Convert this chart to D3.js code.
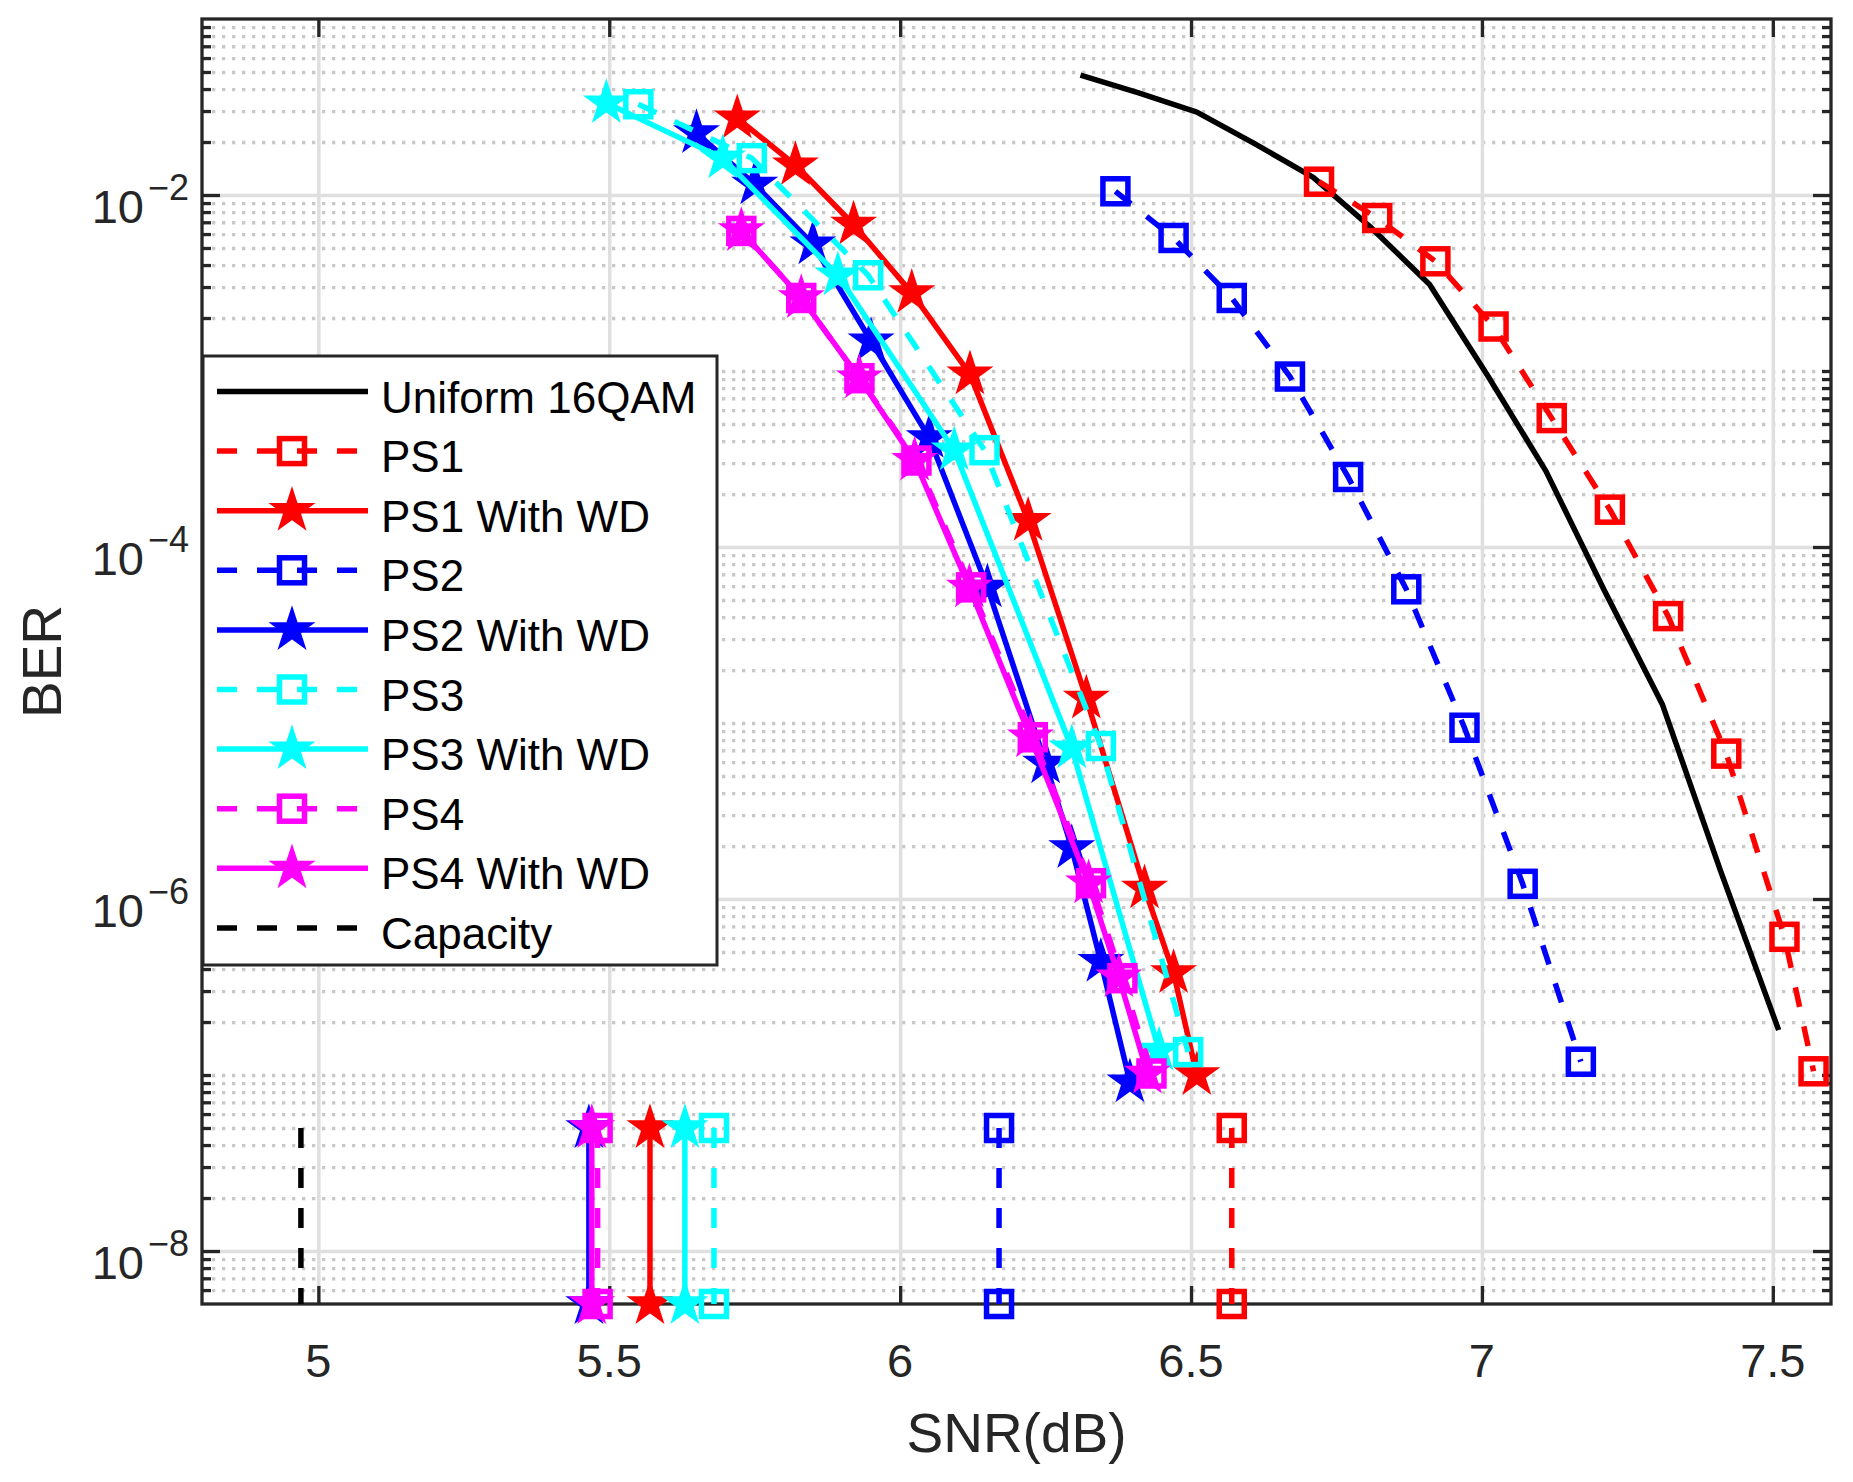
<!DOCTYPE html>
<html>
<head>
<meta charset="utf-8">
<script src="https://cdn.jsdelivr.net/npm/d3@7"></script>
<style>
  body { margin: 0; background: #fff; }
  text { font-family: 'Liberation Sans', Arial, Helvetica, sans-serif; }
</style>
</head>
<body>
<svg width="1853" height="1482"></svg>
<script>
// values (SNR in dB, BER)
var snrUniform = [6.31, 6.41, 6.51, 6.61, 6.71, 6.81, 6.91, 7.01, 7.11, 7.21, 7.31, 7.41, 7.51];
var berUniform = [4.8e-2, 3.8e-2, 2.96e-2, 1.95e-2, 1.26e-2, 6.5e-3, 3.1e-3, 9.4e-4, 2.7e-4, 5.7e-5, 1.28e-5, 1.45e-6, 1.8e-7];

var snrPS1 = [6.72, 6.82, 6.92, 7.02, 7.12, 7.22, 7.32, 7.42, 7.52, 7.57];
var berPS1 = [1.19e-2, 7.4e-3, 4.2e-3, 1.79e-3, 5.4e-4, 1.63e-4, 4.05e-5, 6.7e-6, 6.1e-7, 1.05e-7];

var snrPS1WD = [5.72, 5.82, 5.92, 6.02, 6.12, 6.22, 6.32, 6.42, 6.47, 6.51];
var berPS1WD = [2.73e-2, 1.48e-2, 6.8e-3, 2.78e-3, 9.6e-4, 1.41e-4, 1.38e-5, 1.15e-6, 3.8e-7, 1.0e-7];

var snrPS2 = [6.37, 6.47, 6.57, 6.67, 6.77, 6.87, 6.97, 7.07, 7.17];
var berPS2 = [1.05e-2, 5.7e-3, 2.6e-3, 9.3e-4, 2.5e-4, 5.75e-5, 9.4e-6, 1.22e-6, 1.19e-7];

var snrPS2WD = [5.65, 5.75, 5.85, 5.95, 6.05, 6.15, 6.25, 6.295, 6.345, 6.395];
var berPS2WD = [2.25e-2, 1.15e-2, 5.25e-3, 1.48e-3, 4.17e-4, 5.9e-5, 5.9e-6, 1.95e-6, 4.4e-7, 9.1e-8];

var snrPS3 = [5.55, 5.745, 5.945, 6.145, 6.345, 6.495];
var berPS3 = [3.28e-2, 1.62e-2, 3.5e-3, 3.55e-4, 7.4e-6, 1.35e-7];

var snrPS3WD = [5.495, 5.695, 5.893, 6.093, 6.295, 6.445];
var berPS3WD = [3.33e-2, 1.62e-2, 3.5e-3, 3.55e-4, 7.2e-6, 1.38e-7];

var snrPS4 = [5.727, 5.83, 5.93, 6.028, 6.122, 6.228, 6.328, 6.382, 6.432];
var berPS4 = [6.25e-3, 2.6e-3, 9.1e-4, 3.1e-4, 5.9e-5, 8.3e-6, 1.23e-6, 3.55e-7, 1.02e-7];

var snrPS4WD = [5.727, 5.83, 5.93, 6.025, 6.119, 6.224, 6.324, 6.376, 6.425];
var berPS4WD = [6.25e-3, 2.6e-3, 9.1e-4, 3.1e-4, 5.9e-5, 8.3e-6, 1.23e-6, 3.6e-7, 1.02e-7];

// short vertical markers near the bottom, one per series (legend order, Uniform has none)
var thresholdSnr = [6.57, 5.57, 6.17, 5.465, 5.68, 5.63, 5.48, 5.47, 4.97];
var thresholdBer = [5e-8, 5e-9];

var xTicks = [5, 5.5, 6, 6.5, 7, 7.5];
var yTicks = [1e-8, 1e-6, 1e-4, 1e-2];
var yTickExp = ['\u22128', '\u22126', '\u22124', '\u22122'];

var svg = d3.select('svg'),
    plotLeft = 202, plotRight = 1831, plotTop = 19, plotBottom = 1304;

var x = d3.scaleLinear().domain([4.8, 7.6]).range([plotLeft, plotRight]);
var y = d3.scaleLog().domain([5e-9, 1e-1]).range([plotBottom, plotTop]);

svg.append('rect').attr('width', 1853).attr('height', 1482).attr('fill', '#fff');

svg.append('clipPath').attr('id', 'plot')
  .append('rect')
    .attr('x', plotLeft).attr('y', plotTop)
    .attr('width', plotRight - plotLeft).attr('height', plotBottom - plotTop);

// minor decades for the log grid
var yMinor = [];
for (var n = -9; n <= -2; n++) {
  for (var k = 1; k <= 9; k++) {
    var v = k * Math.pow(10, n);
    var isMajor = yTicks.some(function(t) { return Math.abs(t - v) / t < 1e-6; });
    if (v > 5e-9 * 1.0001 && v < 0.1 * 0.9999 && !isMajor) yMinor.push(v);
  }
}

// grid
svg.append('g')
    .attr('transform', 'translate(' + plotLeft + ',0)')
    .call(d3.axisLeft(y).tickValues(yMinor).tickSize(-(plotRight - plotLeft)).tickFormat(''))
    .call(function(g) { g.select('.domain').remove(); })
  .selectAll('line')
    .attr('stroke', '#c8c8c8')
    .attr('stroke-width', 3.3)
    .attr('stroke-dasharray', '3.3,6.7');

svg.append('g')
    .attr('transform', 'translate(' + plotLeft + ',0)')
    .call(d3.axisLeft(y).tickValues(yTicks).tickSize(-(plotRight - plotLeft)).tickFormat(''))
    .call(function(g) { g.select('.domain').remove(); })
  .selectAll('line')
    .attr('stroke', '#dfdfdf')
    .attr('stroke-width', 3.5);

svg.append('g')
    .attr('transform', 'translate(0,' + plotBottom + ')')
    .call(d3.axisBottom(x).tickValues(xTicks).tickSize(-(plotBottom - plotTop)).tickFormat(''))
    .call(function(g) { g.select('.domain').remove(); })
  .selectAll('line')
    .attr('stroke', '#dfdfdf')
    .attr('stroke-width', 3.5);

// inward ticks on all four sides
function ticks(axis, tx, ty) {
  svg.append('g')
      .attr('transform', 'translate(' + tx + ',' + ty + ')')
      .call(axis.tickFormat(''))
      .call(function(g) { g.select('.domain').remove(); })
    .selectAll('line')
      .attr('stroke', '#262626')
      .attr('stroke-width', 3.3);
}
ticks(d3.axisBottom(x).tickValues(xTicks).tickSize(-18), 0, plotBottom);
ticks(d3.axisTop(x).tickValues(xTicks).tickSize(-18), 0, plotTop);
ticks(d3.axisLeft(y).tickValues(yTicks).tickSize(-18), plotLeft, 0);
ticks(d3.axisRight(y).tickValues(yTicks).tickSize(-18), plotRight, 0);
ticks(d3.axisLeft(y).tickValues(yMinor).tickSize(-9), plotLeft, 0);
ticks(d3.axisRight(y).tickValues(yMinor).tickSize(-9), plotRight, 0);

svg.append('rect')
    .attr('x', plotLeft).attr('y', plotTop)
    .attr('width', plotRight - plotLeft).attr('height', plotBottom - plotTop)
    .attr('fill', 'none')
    .attr('stroke', '#262626')
    .attr('stroke-width', 3.3);

// tick labels
svg.append('g').selectAll('text')
  .data(xTicks)
  .enter().append('text')
    .attr('x', function(d) { return x(d); })
    .attr('y', 1377)
    .attr('text-anchor', 'middle')
    .attr('font-size', 47)
    .attr('fill', '#262626')
    .text(function(d) { return d; });

var yLab = svg.append('g').selectAll('text')
  .data(yTicks)
  .enter().append('text')
    .attr('x', 189)
    .attr('y', function(d) { return y(d) + 28; })
    .attr('text-anchor', 'end')
    .attr('font-size', 47)
    .attr('fill', '#262626');
yLab.append('tspan').text('10');
yLab.append('tspan')
    .attr('dx', 4)
    .attr('dy', -23)
    .attr('font-size', 36)
    .text(function(d, i) { return yTickExp[i]; });

svg.append('text')
    .attr('x', (plotLeft + plotRight) / 2)
    .attr('y', 1452)
    .attr('text-anchor', 'middle')
    .attr('font-size', 55)
    .attr('fill', '#262626')
    .text('SNR(dB)');

svg.append('text')
    .attr('transform', 'translate(61,' + (plotTop + plotBottom) / 2 + ') rotate(-90)')
    .attr('text-anchor', 'middle')
    .attr('font-size', 55)
    .attr('fill', '#262626')
    .text('BER');

// series styles
var series = [
  { name: 'Uniform 16QAM', snr: snrUniform, ber: berUniform, color: '#000000', dash: null, marker: null },
  { name: 'PS1', snr: snrPS1, ber: berPS1, color: '#ff0000', dash: '20,20', marker: 'square' },
  { name: 'PS1 With WD', snr: snrPS1WD, ber: berPS1WD, color: '#ff0000', dash: null, marker: 'star' },
  { name: 'PS2', snr: snrPS2, ber: berPS2, color: '#0000ff', dash: '20,20', marker: 'square' },
  { name: 'PS2 With WD', snr: snrPS2WD, ber: berPS2WD, color: '#0000ff', dash: null, marker: 'star' },
  { name: 'PS3', snr: snrPS3, ber: berPS3, color: '#00ffff', dash: '20,20', marker: 'square' },
  { name: 'PS3 With WD', snr: snrPS3WD, ber: berPS3WD, color: '#00ffff', dash: null, marker: 'star' },
  { name: 'PS4', snr: snrPS4, ber: berPS4, color: '#ff00ff', dash: '20,20', marker: 'square' },
  { name: 'PS4 With WD', snr: snrPS4WD, ber: berPS4WD, color: '#ff00ff', dash: null, marker: 'star' },
  { name: 'Capacity', snr: null, ber: null, color: '#000000', dash: '20,20', marker: null }
];
// thresholds belong to every series but the first
series.forEach(function(s, i) { s.thr = i > 0 ? thresholdSnr[i - 1] : null; });

function starPath(r) {
  var pts = [];
  for (var i = 0; i < 10; i++) {
    var a = -Math.PI / 2 + i * Math.PI / 5,
        rr = i % 2 ? r * 0.382 : r;
    pts.push([rr * Math.cos(a), rr * Math.sin(a)]);
  }
  return 'M' + pts.join('L') + 'Z';
}

function drawMarkers(g, s, pts) {
  if (s.marker === 'square') {
    g.selectAll(null)
      .data(pts)
      .enter().append('rect')
        .attr('x', function(d) { return d[0] - 12.5; })
        .attr('y', function(d) { return d[1] - 12.5; })
        .attr('width', 25).attr('height', 25)
        .attr('fill', 'none')
        .attr('stroke', s.color)
        .attr('stroke-width', 5.5);
  } else if (s.marker === 'star') {
    g.selectAll(null)
      .data(pts)
      .enter().append('path')
        .attr('d', starPath(21.5))
        .attr('transform', function(d) { return 'translate(' + d[0] + ',' + d[1] + ')'; })
        .attr('fill', s.color)
        .attr('stroke', s.color)
        .attr('stroke-width', 2)
        .attr('stroke-linejoin', 'miter');
  }
}

var line = d3.line();

function drawCurve(s, pts) {
  var g = svg.append('g');
  g.append('path')
      .attr('d', line(pts))
      .attr('clip-path', 'url(#plot)')
      .attr('fill', 'none')
      .attr('stroke', s.color)
      .attr('stroke-width', 5.5)
      .attr('stroke-dasharray', s.dash)
      .attr('stroke-linejoin', 'round');
  drawMarkers(g, s, pts);
}

series.forEach(function(s) {
  if (s.snr) {
    drawCurve(s, s.snr.map(function(v, i) { return [x(v), y(s.ber[i])]; }));
  }
});
series.forEach(function(s) {
  if (s.thr != null) {
    drawCurve(s, thresholdBer.map(function(b) { return [x(s.thr), y(b)]; }));
  }
});

// legend
var lg = svg.append('g');
lg.append('rect')
    .attr('x', 203).attr('y', 356)
    .attr('width', 514).attr('height', 609)
    .attr('fill', '#fff')
    .attr('stroke', '#262626')
    .attr('stroke-width', 3);

series.forEach(function(s, i) {
  var cy = 391.5 + i * 59.6;
  var row = lg.append('g');
  row.append('line')
      .attr('x1', 217).attr('x2', 368)
      .attr('y1', cy).attr('y2', cy)
      .attr('stroke', s.color)
      .attr('stroke-width', 5.5)
      .attr('stroke-dasharray', s.dash);
  drawMarkers(row, s, [[292, cy]]);
  row.append('text')
      .attr('x', 381)
      .attr('y', cy + 21)
      .attr('font-size', 44)
      .attr('fill', '#000')
      .text(s.name);
});
</script>
</body>
</html>
